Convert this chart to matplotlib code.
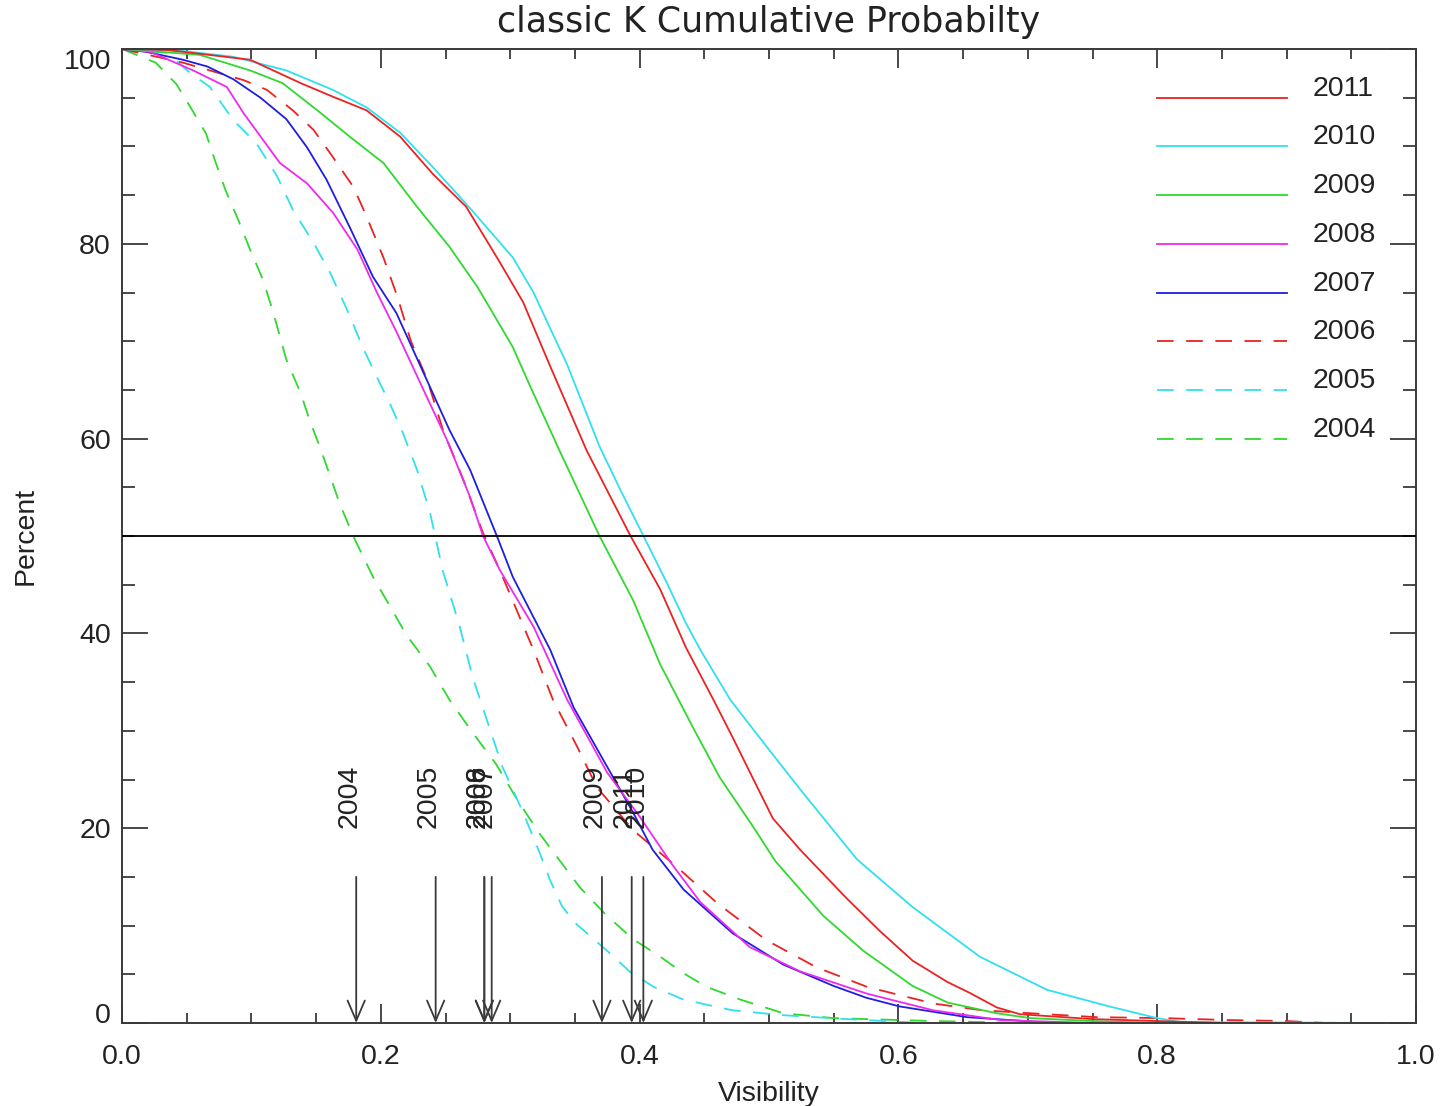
"""Cumulative probability of classic K visibility, one curve per year.

Writes out.png (1442x1106).
"""

import matplotlib
matplotlib.use("Agg")
import matplotlib.pyplot as plt

plt.rcParams["font.family"] = ["Liberation Sans", "DejaVu Sans"]
plt.rcParams["lines.scale_dashes"] = False

# ─── Data ────────────────────────────────────────────────────────────────────

YEARS = ["2011", "2010", "2009", "2008", "2007", "2006", "2005", "2004"]

vis_2011 = [0, 0.035, 0.099, 0.138, 0.163, 0.189, 0.215, 0.240, 0.266, 0.292,
            0.310, 0.331, 0.359, 0.393, 0.416, 0.436, 0.457, 0.472, 0.488, 0.503,
            0.524, 0.560, 0.586, 0.611, 0.638, 0.655, 0.676, 0.694, 0.75, 0.80, 0.85]
pct_2011 = [100, 99.9, 98.9, 96.5, 95.1, 93.7, 91.0, 87.2, 83.8, 78.1,
            74.0, 67.4, 58.8, 50.0, 44.5, 38.5, 33.2, 29.3, 25.0, 21.0,
            17.8, 12.8, 9.4, 6.4, 4.2, 3.1, 1.6, 0.9, 0.4, 0.2, 0]

vis_2010 = [0, 0.047, 0.086, 0.127, 0.163, 0.189, 0.215, 0.240, 0.270, 0.302,
            0.318, 0.332, 0.344, 0.369, 0.386, 0.403, 0.421, 0.436, 0.447, 0.470,
            0.498, 0.524, 0.568, 0.611, 0.663, 0.715, 0.763, 0.800, 0.818, 0.97]
pct_2010 = [100, 99.8, 99.2, 97.8, 95.8, 94.0, 91.4, 87.9, 83.5, 78.6,
            75.0, 71.0, 67.6, 59.2, 54.5, 50.0, 45.2, 41.0, 38.3, 33.2,
            28.4, 24.0, 16.8, 11.9, 6.8, 3.4, 1.7, 0.5, 0.1, 0]

vis_2009 = [0, 0.060, 0.099, 0.124, 0.151, 0.176, 0.202, 0.228, 0.253, 0.275,
            0.302, 0.315, 0.338, 0.369, 0.395, 0.416, 0.441, 0.462, 0.488, 0.505,
            0.542, 0.573, 0.611, 0.638, 0.676, 0.702, 0.75, 0.80]
pct_2009 = [100, 99.4, 97.8, 96.5, 93.7, 91.0, 88.3, 83.8, 79.7, 75.5,
            69.4, 65.5, 58.8, 50.0, 43.4, 36.8, 30.4, 25.2, 20.1, 16.6,
            11.0, 7.4, 3.8, 2.1, 1.0, 0.5, 0.2, 0]

vis_2008 = [0, 0.022, 0.055, 0.081, 0.094, 0.122, 0.143, 0.163, 0.182, 0.197,
            0.212, 0.233, 0.251, 0.269, 0.279, 0.292, 0.318, 0.344, 0.375, 0.400,
            0.425, 0.447, 0.485, 0.524, 0.576, 0.627, 0.679, 0.75]
pct_2008 = [100, 99.7, 97.8, 96.1, 93.4, 88.3, 86.2, 83.2, 79.4, 75.0,
            71.0, 65.0, 59.9, 54.0, 50.0, 46.5, 40.7, 33.2, 25.7, 21.2,
            16.3, 12.4, 7.8, 5.3, 3.0, 1.3, 0.3, 0]

vis_2007 = [0, 0.019, 0.047, 0.066, 0.086, 0.107, 0.127, 0.143, 0.158, 0.176,
            0.194, 0.212, 0.238, 0.253, 0.269, 0.290, 0.302, 0.331, 0.349, 0.369,
            0.395, 0.410, 0.434, 0.472, 0.511, 0.550, 0.575, 0.601, 0.653, 0.72]
pct_2007 = [100, 99.7, 98.9, 98.2, 96.9, 95.0, 92.8, 89.9, 86.6, 81.7,
            76.6, 72.9, 65.3, 60.9, 56.8, 49.9, 45.8, 38.3, 32.4, 27.7,
            21.6, 17.8, 13.7, 9.2, 6.0, 3.8, 2.6, 1.7, 0.6, 0]

vis_2006 = [0, 0.047, 0.094, 0.112, 0.132, 0.148, 0.163, 0.179, 0.189, 0.202,
            0.213, 0.223, 0.236, 0.248, 0.264, 0.279, 0.292, 0.318, 0.333, 0.352,
            0.367, 0.395, 0.429, 0.460, 0.498, 0.537, 0.576, 0.627, 0.665, 0.702,
            0.753, 0.805, 0.856, 0.900, 0.93]
pct_2006 = [100, 98.6, 96.8, 95.8, 93.7, 91.7, 88.9, 85.8, 82.8, 78.6,
            74.5, 70.1, 66.0, 60.9, 55.7, 50.3, 46.5, 38.3, 33.2, 28.3,
            24.2, 19.8, 16.0, 12.3, 8.5, 5.7, 3.7, 2.0, 1.3, 1.0,
            0.6, 0.5, 0.3, 0.2, 0]

vis_2005 = [0, 0.035, 0.053, 0.068, 0.086, 0.104, 0.120, 0.132, 0.148, 0.161,
            0.174, 0.186, 0.197, 0.207, 0.217, 0.228, 0.238, 0.242, 0.248, 0.261,
            0.271, 0.282, 0.294, 0.310, 0.323, 0.331, 0.340, 0.350, 0.362, 0.375,
            0.393, 0.411, 0.434, 0.472, 0.511, 0.56, 0.62]
pct_2005 = [100, 99.6, 97.5, 96.1, 92.7, 90.3, 86.9, 83.5, 80.1, 77.0,
            73.2, 69.4, 66.3, 63.6, 60.6, 56.8, 52.4, 50.0, 46.4, 40.7,
            35.5, 31.1, 26.3, 21.6, 17.4, 14.6, 12.0, 10.3, 8.9, 7.4,
            5.2, 3.7, 2.4, 1.3, 0.8, 0.4, 0]

vis_2004 = [0, 0.026, 0.042, 0.053, 0.065, 0.072, 0.080, 0.090, 0.099, 0.109,
            0.117, 0.127, 0.138, 0.145, 0.153, 0.161, 0.168, 0.179, 0.194, 0.207,
            0.220, 0.238, 0.253, 0.271, 0.289, 0.306, 0.323, 0.333, 0.354, 0.374,
            0.395, 0.416, 0.434, 0.452, 0.478, 0.511, 0.550, 0.627, 0.70]
pct_2004 = [100, 98.6, 96.4, 94.0, 91.3, 88.5, 85.5, 82.4, 79.4, 76.3,
            72.9, 68.1, 64.7, 61.9, 59.1, 56.1, 53.4, 49.9, 45.8, 42.8,
            39.8, 36.6, 33.2, 29.8, 26.6, 22.8, 19.4, 17.6, 13.9, 11.1,
            8.6, 6.8, 5.1, 3.7, 2.4, 1.0, 0.5, 0.2, 0]

# visibility where each year's curve crosses 50 %
MEDIAN_YEARS = ["2004", "2005", "2006", "2008", "2007", "2009", "2011", "2010"]
MEDIAN_VIS = [0.181, 0.2424, 0.2800, 0.2800, 0.2857, 0.3709, 0.3939, 0.4029]

X_TICKS = [0.0, 0.2, 0.4, 0.6, 0.8, 1.0]
X_TICK_LABELS = ["0.0", "0.2", "0.4", "0.6", "0.8", "1.0"]
Y_TICKS = [0, 20, 40, 60, 80, 100]

# ─── Styles ──────────────────────────────────────────────────────────────────

RED = "#ec2222"
CYAN = "#30e0ee"
GREEN = "#30d830"
MAGENTA = "#ee2aee"
BLUE = "#1e1ee0"
DASH = (0, (12, 9))

SERIES = [
    ("2011", vis_2011, pct_2011, RED, "-"),
    ("2010", vis_2010, pct_2010, CYAN, "-"),
    ("2009", vis_2009, pct_2009, GREEN, "-"),
    ("2008", vis_2008, pct_2008, MAGENTA, "-"),
    ("2007", vis_2007, pct_2007, BLUE, "-"),
    ("2006", vis_2006, pct_2006, RED, DASH),
    ("2005", vis_2005, pct_2005, CYAN, DASH),
    ("2004", vis_2004, pct_2004, GREEN, DASH),
]

AXIS_COL = "#3a3a3a"
TEXT_COL = "#222222"
FS = 20.5


def main() -> None:
    fig = plt.figure(figsize=(14.42, 11.06), dpi=100)
    ax = fig.add_axes([122 / 1442, 1 - 1023 / 1106, 1294 / 1442, 974 / 1106])

    # curves, drawn oldest first so the solid ones sit on top
    for year, vis, pct, col, ls in reversed(SERIES):
        ax.plot(vis, pct, color=col, linestyle=ls, linewidth=1.3, zorder=2)

    ax.axhline(50, color="black", linewidth=1.3, zorder=3)

    # median arrows with rotated year labels
    for year, v in zip(MEDIAN_YEARS, MEDIAN_VIS):
        ax.annotate(
            "", xy=(v, 0), xytext=(v, 15),
            arrowprops=dict(arrowstyle="->,head_length=1.45,head_width=0.62",
                            color=AXIS_COL, linewidth=1.3,
                            shrinkA=0, shrinkB=0, mutation_scale=10),
            zorder=4,
        )
        ax.text(v, 20, year, rotation=90, rotation_mode="anchor",
                ha="left", va="baseline", fontsize=FS, color=TEXT_COL, zorder=5)

    # hand-made legend, one row per 5 % at the upper right
    for i, (year, _, _, col, ls) in enumerate(SERIES):
        y = 95 - 5 * i
        ax.plot([0.80, 0.90], [y, y], color=col, linestyle=ls, linewidth=1.3)
        ax.text(0.920, y + 0.2, year, fontsize=FS, color=TEXT_COL,
                ha="left", va="baseline")

    ax.set_xlim(0, 1)
    ax.set_ylim(0, 100)
    ax.set_xticks(X_TICKS)
    ax.set_xticklabels(X_TICK_LABELS)
    ax.set_yticks(Y_TICKS)
    ax.set_xticks([i * 0.05 for i in range(21)], minor=True)
    ax.set_yticks(range(0, 101, 5), minor=True)

    ax.tick_params(axis="both", which="both", direction="in", colors=AXIS_COL,
                   top=True, right=True, labelsize=FS, labelcolor=TEXT_COL)
    ax.tick_params(axis="x", which="major", length=14, width=1.3, pad=15)
    ax.tick_params(axis="x", which="minor", length=7, width=1.3)
    ax.tick_params(axis="y", which="major", length=18.7, width=1.3, pad=8)
    ax.tick_params(axis="y", which="minor", length=9.3, width=1.3)
    for sp in ax.spines.values():
        sp.set_color(AXIS_COL)
        sp.set_linewidth(1.4)

    # IDL keeps the end labels inside the axis range
    ylabels = ax.get_yticklabels()
    ylabels[0].set_verticalalignment("baseline")
    ylabels[-1].set_verticalalignment("top")

    ax.set_xlabel("Visibility", fontsize=FS, color=TEXT_COL, labelpad=8)
    ax.set_ylabel("Percent", fontsize=FS, color=TEXT_COL, labelpad=18)
    ax.set_title("classic K Cumulative Probabilty", fontsize=25,
                 family="DejaVu Sans", color=TEXT_COL, y=1.017, pad=0)

    fig.savefig("out.png", dpi=100)
    plt.close(fig)


if __name__ == "__main__":
    main()
